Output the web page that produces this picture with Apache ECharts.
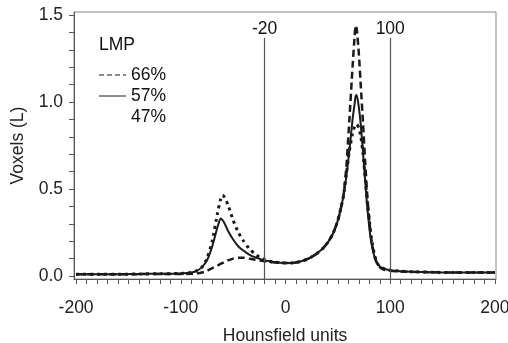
<!DOCTYPE html>
<html><head><meta charset="utf-8">
<script src="https://cdn.jsdelivr.net/npm/echarts@6/dist/echarts.min.js"></script>
<style>html,body{margin:0;padding:0;background:#fff}#c{width:508px;height:343px}</style>
</head><body><div id="c"></div>
<script>
const hu = [-200,-180,-160,-140,-120,-100,-90,-85,-80,-75,-70,-65,-62,-60,-58,-55,-50,-45,-40,-35,-30,-25,-20,-15,-10,-5,0,5,10,15,20,25,30,35,40,45,50,55,58,61,64,66,67,68,70,72,74,76,78,80,82,85,88,91,95,100,110,120,140,160,180,200];
const lmp66 = [0.01,0.01,0.01,0.011,0.012,0.012,0.013,0.015,0.02,0.03,0.045,0.06,0.07,0.075,0.082,0.09,0.1,0.105,0.105,0.1,0.095,0.09,0.085,0.08,0.078,0.075,0.075,0.075,0.078,0.085,0.095,0.11,0.13,0.155,0.19,0.24,0.32,0.45,0.62,0.9,1.2,1.38,1.44,1.42,1.28,1.08,0.88,0.66,0.47,0.32,0.21,0.11,0.065,0.045,0.035,0.03,0.026,0.024,0.022,0.02,0.02,0.02];
const lmp57 = [0.01,0.01,0.01,0.012,0.013,0.015,0.02,0.03,0.05,0.09,0.17,0.28,0.33,0.32,0.3,0.26,0.21,0.17,0.145,0.125,0.11,0.1,0.09,0.085,0.08,0.077,0.075,0.075,0.078,0.085,0.095,0.11,0.13,0.155,0.19,0.24,0.32,0.45,0.57,0.72,0.9,0.99,1.035,1.04,0.97,0.86,0.71,0.55,0.4,0.28,0.19,0.11,0.07,0.05,0.04,0.033,0.028,0.025,0.022,0.02,0.02,0.02];
const lmp47 = [0.01,0.01,0.01,0.012,0.013,0.015,0.02,0.03,0.05,0.1,0.2,0.36,0.44,0.465,0.45,0.41,0.32,0.25,0.2,0.16,0.13,0.11,0.095,0.085,0.08,0.077,0.075,0.075,0.078,0.085,0.095,0.11,0.13,0.155,0.19,0.24,0.32,0.45,0.58,0.72,0.82,0.86,0.87,0.87,0.85,0.8,0.7,0.57,0.43,0.32,0.22,0.12,0.07,0.05,0.04,0.033,0.028,0.025,0.022,0.02,0.02,0.02];
const xLabels = [-200,-100,0,100,200];
const yLabels = [0,0.5,1.0,1.5];
const refLines = [-20,100];
const refTop = 1.368;
const yBottom = -0.017;

const xTicks = []; for (let v=-200; v<=200; v+=10) xTicks.push(v);
const yTicks = []; for (let i=0;i<=15;i++) yTicks.push(+(i*0.1).toFixed(1));

const pairs = arr => hu.map((x,i)=>[x,arr[i]]);
const font = 'Liberation Sans, Arial, sans-serif';
const col = '#1a1a1a';
const fs = 17.5;

const chart = echarts.init(document.getElementById('c'), null, {renderer:'canvas'});
chart.setOption({
  animation:false,
  backgroundColor:'#fff',
  title:{text:'LMP',left:99,top:36,padding:0,textStyle:{fontFamily:font,fontSize:fs,fontWeight:'normal',color:'#111'}},
  legend:{
    orient:'vertical',left:98,top:66,padding:0,itemWidth:27,itemHeight:14,itemGap:3,
    textStyle:{fontFamily:font,fontSize:fs,color:'#111',lineHeight:18},
    itemStyle:{opacity:0},
    data:[
      {name:'66%',lineStyle:{width:1,type:[5,3]},itemStyle:{opacity:0}},
      {name:'57%',lineStyle:{width:1},itemStyle:{opacity:0}},
      {name:'47%',lineStyle:{opacity:0},itemStyle:{opacity:0}}
    ]
  },
  grid:{left:74,right:12,top:12,bottom:64,outerBoundsMode:'none',show:true,borderColor:'#888',borderWidth:1},
  xAxis:{
    type:'value',min:-202,max:201,
    name:'Hounsfield units',nameLocation:'middle',nameGap:48,
    nameTextStyle:{fontFamily:font,fontSize:fs,color:'#222'},
    axisLine:{onZero:false,lineStyle:{color:'#555'}},
    axisTick:{customValues:xTicks,length:5,lineStyle:{color:'#555'}},
    axisLabel:{customValues:xLabels,fontFamily:font,fontSize:fs,color:'#222',margin:20},
    splitLine:{show:false}
  },
  yAxis:{
    type:'value',min:yBottom,max:1.517,
    name:'Voxels (L)',nameLocation:'middle',nameGap:47,
    nameTextStyle:{fontFamily:font,fontSize:fs,color:'#222'},
    axisLine:{onZero:false,lineStyle:{color:'#555'}},
    axisTick:{customValues:yTicks,length:5,lineStyle:{color:'#555'}},
    axisLabel:{customValues:yLabels,fontFamily:font,fontSize:fs,color:'#222',margin:11,formatter:v=>v.toFixed(1)},
    splitLine:{show:false}
  },
  series:[
    {name:'66%',type:'line',data:pairs(lmp66),symbol:'none',smooth:0.2,
     lineStyle:{color:col,width:2.5,type:[7,4]},itemStyle:{color:col},z:3},
    {name:'57%',type:'line',data:pairs(lmp57),symbol:'none',smooth:0.2,
     lineStyle:{color:col,width:2},itemStyle:{color:col},z:4,
     markLine:{silent:true,symbol:'none',
       lineStyle:{color:'#555',width:1.2,type:'solid'},
       label:{show:true,position:'end',distance:0,fontFamily:font,fontSize:fs,color:'#111',formatter:p=>String(p.data.v)},
       data:refLines.map(v=>[{coord:[v,yBottom],v:v},{coord:[v,refTop],v:v}])}},
    {name:'47%',type:'line',data:pairs(lmp47),symbol:'none',smooth:0.2,
     lineStyle:{color:col,width:3,type:[3,4]},itemStyle:{color:col},z:2}
  ]
});
</script></body></html>
